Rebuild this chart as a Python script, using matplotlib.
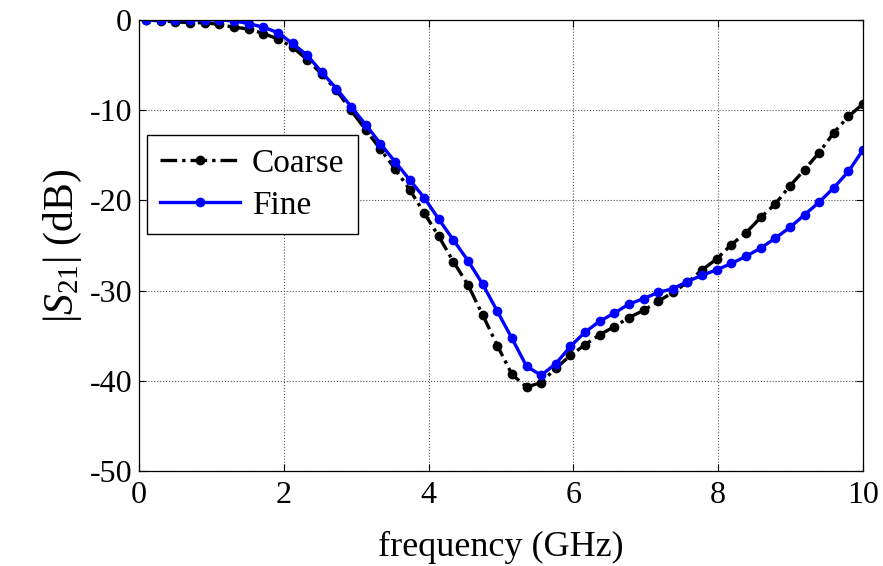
import numpy as np
import matplotlib
matplotlib.use("Agg")
import matplotlib.pyplot as plt

plt.rcParams['font.family'] = ['Liberation Serif', 'DejaVu Serif']
plt.rcParams['mathtext.fontset'] = 'custom'
plt.rcParams['mathtext.rm'] = 'Liberation Serif'
plt.rcParams['mathtext.it'] = 'Liberation Serif:italic'
plt.rcParams['axes.unicode_minus'] = False

# frequency samples (GHz)
freq = np.linspace(0.1, 10, 50)

coarse = [0, -0.1, -0.2, -0.3, -0.3, -0.5, -0.8, -1.0, -1.5, -2.1,
          -3.0, -4.4, -6.0, -7.8, -10.0, -12.2, -14.3, -16.5, -18.8, -21.4,
          -24.0, -26.8, -29.4, -32.7, -36.1, -39.3, -40.7, -40.2, -38.6, -37.2,
          -36.0, -34.9, -34.0, -33.0, -32.2, -31.2, -30.2, -29.1, -27.7, -26.5,
          -24.9, -23.6, -21.9, -20.4, -18.4, -16.6, -14.7, -12.5, -10.7, -9.3]

fine = [0, 0, 0, 0, 0, 0, -0.1, -0.4, -0.8, -1.4,
        -2.6, -3.9, -5.8, -7.6, -9.6, -11.6, -13.7, -15.7, -17.7, -19.7,
        -22.1, -24.4, -26.7, -29.3, -32.3, -35.3, -38.4, -39.4, -38.1, -36.2,
        -34.6, -33.4, -32.5, -31.5, -30.9, -30.2, -29.8, -29.0, -28.3, -27.7,
        -27.0, -26.2, -25.3, -24.2, -23.0, -21.6, -20.2, -18.6, -16.8, -14.4]

fig = plt.figure(figsize=(8.83, 5.66), dpi=100)
ax = fig.add_axes([0.1574, 0.168, 0.82, 0.7967])

ax.plot(freq, coarse, color='black', linestyle=(0, (5, 1.5, 1, 1.5)), linewidth=2.4,
        marker='o', markersize=6, label='Coarse')
ax.plot(freq, fine, color='blue', linestyle='-', linewidth=2.4,
        marker='o', markersize=6, label='Fine')

ax.set_xlim(0, 10)
ax.set_ylim(-50, 0)
ax.set_xticks([0, 2, 4, 6, 8, 10])
ax.set_yticks([-50, -40, -30, -20, -10, 0])
ax.grid(True, color='#555555', linestyle=':', linewidth=0.8)
ax.tick_params(direction='in', top=True, right=True, labelsize=23, length=5)
ax.tick_params(axis='y', pad=5)
ax.tick_params(axis='x', pad=7)
for s in ax.spines.values():
    s.set_linewidth(0.9)

ax.set_xlabel('frequency (GHz)', fontsize=26, labelpad=15)
ax.set_ylabel(r'$|S_{21}|$ (dB)', fontsize=30, labelpad=4)

leg = ax.legend(loc='upper left', bbox_to_anchor=(0.011, 0.745), fontsize=24,
                handlelength=2.4, handletextpad=0.35, fancybox=False, edgecolor='black',
                framealpha=1, borderpad=0.4, labelspacing=0.35, borderaxespad=0)
leg.get_frame().set_linewidth(1.0)

fig.savefig('out.png', dpi=100)
